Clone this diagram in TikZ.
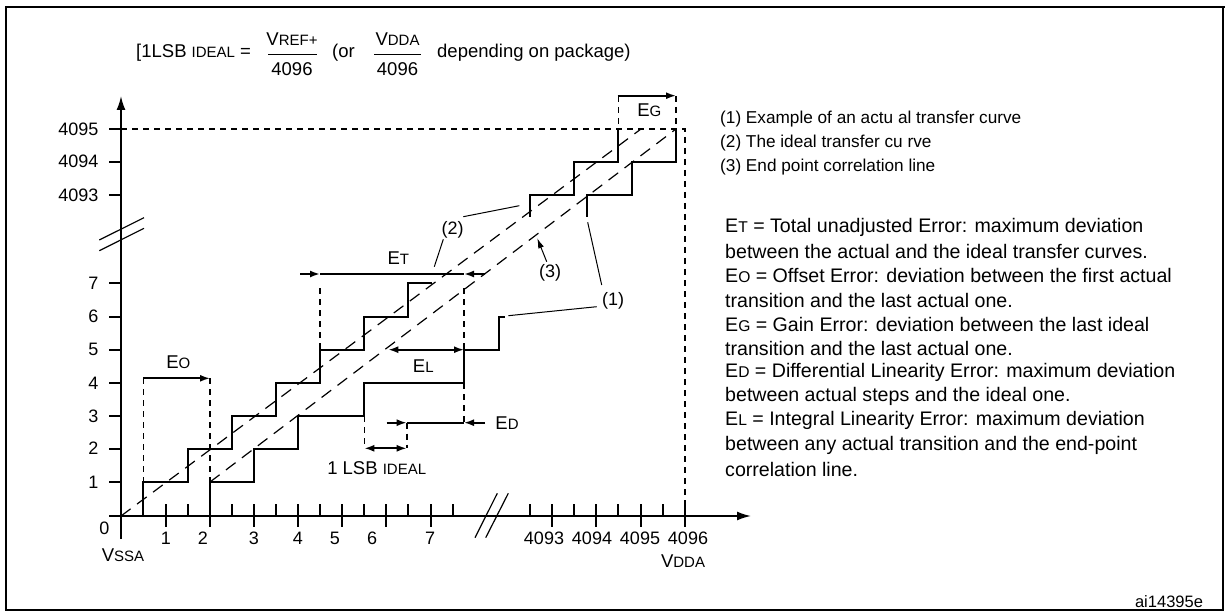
\documentclass[tikz,border=0pt]{standalone}
\usepackage{fontspec}
\setmainfont{Liberation Sans}
\usetikzlibrary{arrows.meta}
\newcommand{\sm}[1]{{\fontsize{15}{17}\selectfont #1}}
\newcommand{\smb}[1]{{\fontsize{15.6}{18}\selectfont #1}}
\newcommand{\lblfont}{\fontsize{18.5}{21}\selectfont}
\newcommand{\tickfont}{\fontsize{18}{21}\selectfont}
\newcommand{\bodyfont}{\fontsize{19.6}{22}\selectfont}
\newcommand{\legfont}{\fontsize{17.2}{19}\selectfont}
\begin{document}
\begin{tikzpicture}[x=1pt,y=-1pt,
  frame/.style={line width=1.2pt},
  axis/.style={line width=1.8pt},
  stair/.style={line width=2pt},
  dimln/.style={line width=1.8pt},
  guide/.style={line width=1.6pt, dash pattern=on 6pt off 5pt},
  refline/.style={line width=1.2pt, dash pattern=on 12pt off 8pt},
  lead/.style={line width=1pt},
  tip/.style={-{Latex[length=10pt,width=7pt]}},
  bitip/.style={{Latex[length=10pt,width=7pt]}-{Latex[length=10pt,width=7pt]}},
  lbl/.style={font=\lblfont, inner sep=0pt},
  tick/.style={font=\tickfont, inner sep=0pt},
  leg/.style={font=\legfont, inner sep=0pt, anchor=west},
  body/.style={font=\bodyfont, inner sep=0pt, anchor=west}
]
\useasboundingbox (0,0) rectangle (1225,612);
% frame
\draw[frame] (6,7) rectangle (1223,610);
\draw[line width=2.6pt] (5,7) -- (1225,7);

% formula
\node[lbl, anchor=west] (f1) at (136,53) {[1LSB \sm{IDEAL} =};
\node[lbl] (n1) at (292,39) {V\sm{REF+}};
\node[lbl] (d1) at (292,69) {4096};
\draw[line width=1pt] (268,55) -- (317,55);
\node[lbl, anchor=west] (f2) at (332,53) {(or};
\node[lbl] (n2) at (397.5,39) {V\sm{DDA}};
\node[lbl] (d2) at (397.5,69) {4096};
\draw[line width=1pt] (374,55) -- (421,55);
\node[lbl, anchor=west] (f3) at (437,53) {depending on package)};

% guide lines 4095 and 4096
\draw[guide] (121,129) -- (685,129) -- (685,516);

% axes
\draw[axis, -{Latex[length=14pt,width=9pt]}] (121,539) -- (121,96);
\draw[axis, -{Latex[length=14pt,width=9pt]}] (109,516) -- (751,516);

% y ticks
\foreach \yy in {129,161.7,195,283.3,316.7,349.7,383,416,448.7,482}
  \draw[axis] (109,\yy) -- (121,\yy);
\foreach \yy/\tx [count=\i] in {129/4095,161.7/4094,195/4093,283.3/7,316.7/6,349.7/5,383/4,416/3,448.7/2,482/1}
  \node[tick, anchor=east] (yl\i) at (98.5,\yy) {\tx};
\node[tick] (zero) at (104.5,528) {0};
\node[lbl] (vssa) at (123,555) {V\sm{SSA}};

% y break
\draw[line width=1.2pt] (99.3,240) -- (144,217.7);
\draw[line width=1.2pt] (99.3,250.7) -- (144,228.3);

% x ticks
\foreach \xx in {166,210,254,298,342,386,430.7,552,596,640.7,685}
  \draw[axis] (\xx,504) -- (\xx,527);
\foreach \xx in {143.3,188,232,276,320,364,408,452.7,530,574,618,662.7}
  \draw[axis] (\xx,504) -- (\xx,516);
\foreach \xx/\tx [count=\i] in {166/1,203/2,254/3,298/4,335/5,372/6,430/7,544/4093,592/4094,640/4095,688/4096}
  \node[tick] (xl\i) at (\xx,538.5) {\tx};
\node[lbl] (vdda) at (683,561) {V\sm{DDA}};

% x break
\draw[line width=1.2pt] (475,537.7) -- (497.3,493.3);
\draw[line width=1.2pt] (485.7,537.7) -- (508.3,493.3);

% ideal and end-point lines
\draw[refline] (121,516) -- (641,129);
\draw[refline] (210,482) -- (676,129);

% staircases
\draw[stair] (143.3,516) -- (143.3,482) -- (188.3,482) -- (188.3,448.7) -- (232,448.7) -- (232,416) -- (276,416) -- (276,383) -- (320,383) -- (320,349.7) -- (364,349.7) -- (364,316.7) -- (408,316.7) -- (408,283.3) -- (431.7,283.3);
\draw[stair] (210,516) -- (210,482) -- (254,482) -- (254,448.7) -- (298,448.7) -- (298,416) -- (364.3,416) -- (364.3,383) -- (464,383) -- (464,349.7) -- (499.3,349.7) -- (499.3,316.7) -- (505,316.7);
\draw[stair] (530,216.7) -- (530,195) -- (574,195) -- (574,161.7) -- (618.3,161.7) -- (618.3,129);
\draw[stair] (587.3,216.7) -- (587.3,195) -- (631.7,195) -- (631.7,161.7) -- (676,161.7) -- (676,129);

% E_O
\draw[guide] (143.3,378.3) -- (143.3,482);
\draw[guide] (210,378.3) -- (210,482);
\draw[dimln, tip] (143.3,378.3) -- (210,378.3);
\node[lbl] (eo) at (178.3,362.7) {E\sm{O}};

% E_T
\draw[guide] (320,288) -- (320,349.7);
\draw[guide] (464,288) -- (464,349.7);
\draw[guide] (464,383) -- (464,426);
\draw[dimln, tip] (300,274) -- (320,274);
\draw[dimln] (320,274) -- (464,274);
\draw[dimln, tip] (485,274) -- (464,274);
\node[lbl] (et) at (398.3,258.3) {E\sm{T}};

% E_L
\draw[dimln, bitip] (388.3,349.7) -- (464,349.7);
\node[lbl] (el) at (423.3,366) {E\sm{L}};

% E_D and 1 LSB
\draw[guide] (364.3,416) -- (364.3,448.3);
\draw[guide] (406.7,422.7) -- (406.7,448.3);
\draw[dimln, tip] (386.7,422.7) -- (406.7,422.7);
\draw[dimln] (406.7,422.7) -- (464,422.7);
\draw[dimln, tip] (485,422.7) -- (464,422.7);
\node[lbl] (ed) at (507,423.3) {E\sm{D}};
\draw[dimln, bitip] (364.3,448.3) -- (406.7,448.3);
\node[lbl] (lsb) at (376.7,468.3) {1 LSB \sm{IDEAL}};

% E_G
\draw[guide] (618.3,96) -- (618.3,129);
\draw[guide] (676,96) -- (676,129);
\draw[dimln, tip] (617.7,95.7) -- (676,95.7);
\node[lbl] (eg) at (649.3,110) {E\sm{G}};

% callouts
\node[tick] (c2) at (452.7,230) {(2)};
\coordinate (c2a) at (434.3,266.7);
\coordinate (c2b) at (443.3,239.3);
\coordinate (c2c) at (463.3,216.7);
\coordinate (c2d) at (519.3,205.7);
\draw[lead] (c2a) -- (c2b);
\draw[lead] (c2c) -- (c2d);
\node[tick] (c3) at (550,273.3) {(3)};
\coordinate (c3a) at (546.7,261.7);
\coordinate (c3b) at (537.3,238.3);
\draw[lead, -{Latex[length=10pt,width=6pt]}] (c3a) -- (c3b);
\node[tick] (c1) at (613,301) {(1)};
\coordinate (c1a) at (596.7,306.7);
\coordinate (c1b) at (508.3,315.7);
\coordinate (c1c) at (601.7,285);
\coordinate (c1d) at (587.7,222.3);
\draw[lead] (c1a) -- (c1b);
\draw[lead] (c1c) -- (c1d);

% legend
\node[leg] (lg1) at (720,119.3) {(1) Example of an actu al transfer curve};
\node[leg] (lg2) at (720,143.3) {(2) The ideal transfer cu rve};
\node[leg] (lg3) at (720,167.3) {(3) End point correlation line};

% definitions
\node[body] (b1) at (725,227.5) {E\smb{T} = Total unadjusted Error: maximum deviation};
\node[body] (b2) at (725,251.7) {between the actual and the ideal transfer curves.};
\node[body] (b3) at (725,275.8) {E\smb{O} = Offset Error: deviation between the first actual};
\node[body] (b4) at (725,300) {transition and the last actual one.};
\node[body] (b5) at (725,324) {E\smb{G} = Gain Error: deviation between the last ideal};
\node[body] (b6) at (725,348) {transition and the last actual one.};
\node[body] (b7) at (725,372.3) {E\smb{D} = Differential Linearity Error: maximum deviation};
\node[body] (b8) at (725,396.5) {between actual steps and the ideal one.};
\node[body] (b9) at (725,420.8) {E\smb{L} = Integral Linearity Error: maximum deviation};
\node[body] (b10) at (725,445) {between any actual transition and the end-point};
\node[body] (b11) at (725,469.3) {correlation line.};

\node[font=\fontsize{16.5}{18}\selectfont, inner sep=0pt] (ref) at (1169,601.5) {ai14395e};
\end{tikzpicture}
\end{document}
